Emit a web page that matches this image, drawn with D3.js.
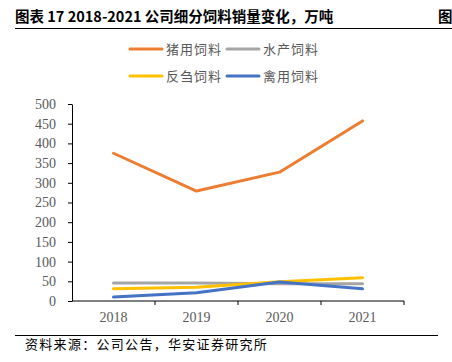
<!DOCTYPE html>
<html><head><meta charset="utf-8">
<script src="https://cdn.jsdelivr.net/npm/d3@7"></script>
<style>body{margin:0;background:#fff}svg{display:block}</style>
</head><body>
<svg id="c" width="452" height="362"></svg>
<script>
const years = ["2018","2019","2020","2021"];
const seriesNames = ["猪用饲料","水产饲料","反刍饲料","禽用饲料"];
const pig = [375, 279, 327, 457];
const aqua = [46, 46, 44, 44];
const rumin = [31, 35, 49, 59];
const poultry = [10, 21, 48, 31];
const yTicks = [0,50,100,150,200,250,300,350,400,450,500];
const colors = ["#ED7D31","#A5A5A5","#FFC000","#4472C4"];
const allSeries = [pig, aqua, rumin, poultry];

const svg = d3.select("#c");
const cjk = "'Noto Sans CJK SC', sans-serif";
const serif = "'Liberation Serif', 'Times New Roman', serif";

// Title
svg.append("text").attr("x",15).attr("y",22)
  .attr("font-family",cjk).attr("font-weight","bold").attr("font-size",14.5).attr("fill","#000")
  .text("图表 17 2018-2021 公司细分饲料销量变化，万吨");
svg.append("text").attr("x",438).attr("y",22)
  .attr("font-family",cjk).attr("font-weight","bold").attr("font-size",14.5).attr("fill","#000")
  .text("图");
svg.append("line").attr("x1",15).attr("x2",452).attr("y1",28.5).attr("y2",28.5).attr("stroke","#000").attr("stroke-width",1);

// Scales
const x = d3.scaleBand().domain(years).range([72,404]);
const y = d3.scaleLinear().domain([0,500]).range([301,104]);

// Y axis
const yAxis = svg.append("g").attr("transform","translate(72,0)")
  .call(d3.axisLeft(y).tickValues(yTicks).tickSize(4).tickPadding(12).tickSizeOuter(0));
yAxis.attr("font-family",serif);
yAxis.select(".domain").attr("stroke","#000");
yAxis.selectAll(".tick line").attr("stroke","#000");
yAxis.selectAll("text").attr("font-family",serif).attr("font-size",14).attr("fill","#595959");

// X axis
const xAxis = svg.append("g").attr("transform","translate(0,301)")
  .call(d3.axisBottom(x).tickSize(0).tickPadding(11));
xAxis.attr("font-family",serif);
xAxis.select(".domain").remove();
xAxis.selectAll("text").attr("font-family",serif).attr("font-size",14).attr("fill","#595959");
svg.append("line").attr("x1",72).attr("x2",404).attr("y1",301).attr("y2",301).attr("stroke","#000");
const bounds = years.slice(1).map(d=>x(d)).concat([x.range()[1]]);
svg.selectAll(".xt").data(bounds).enter().append("line")
  .attr("x1",d=>d).attr("x2",d=>d).attr("y1",301).attr("y2",305).attr("stroke","#000");

// Lines
const line = d3.line().x((d,i)=>x(years[i])+x.bandwidth()/2).y(d=>y(d));
allSeries.forEach((s,k)=>{
  svg.append("path").datum(s).attr("d",line).attr("fill","none")
    .attr("stroke",colors[k]).attr("stroke-width",3).attr("stroke-linecap","round").attr("stroke-linejoin","round");
});

// Legend
const legPos = [[130,49],[227,49],[130,76],[227,76]];
seriesNames.forEach((n,k)=>{
  const [lx,ly] = legPos[k];
  svg.append("line").attr("x1",lx).attr("x2",lx+32).attr("y1",ly).attr("y2",ly)
    .attr("stroke",colors[k]).attr("stroke-width",3).attr("stroke-linecap","round");
  svg.append("text").attr("x",lx+36).attr("y",ly+4.5).attr("font-family",cjk)
    .attr("font-size",13).attr("letter-spacing",1).attr("fill","#595959").text(n);
});

// Source
svg.append("line").attr("x1",15).attr("x2",438).attr("y1",335.5).attr("y2",335.5).attr("stroke","#000");
svg.append("text").attr("x",25).attr("y",349).attr("font-family",cjk).attr("font-size",13)
  .attr("letter-spacing",1.3).attr("fill","#000")
  .text("资料来源：公司公告，华安证券研究所");
</script>
</body></html>
